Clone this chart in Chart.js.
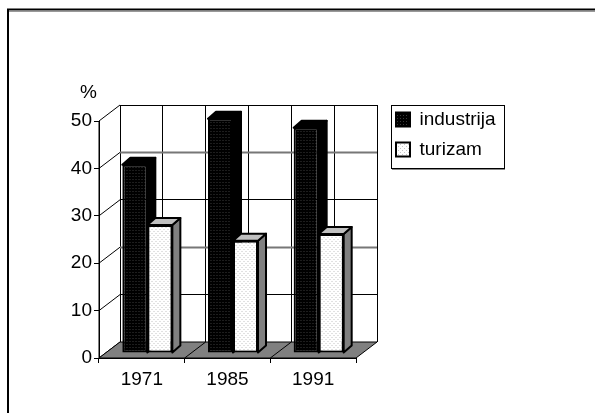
<!DOCTYPE html>
<html>
<head>
<meta charset="utf-8">
<script src="https://cdn.jsdelivr.net/npm/chart.js@4"></script>
<style>html,body{margin:0;padding:0;background:#fff}canvas{display:block}</style>
</head>
<body>
<canvas id="c" width="595" height="413"></canvas>
<script>
const categories = ["1971", "1985", "1991"];
const industrija = [39.7, 49.4, 47.5];
const turizam = [27, 23.7, 25.1];
const yTicks = [0, 10, 20, 30, 40, 50];
const unitLabel = "%";

const FONT = {family: "'Liberation Sans', Arial, sans-serif", size: 19};
const WALL = {dx: 21, dy: -16};
const BAR_DEPTH = {dx: 8, dy: -7};
const BAR_SHIFT = {dx: 5.5, dy: -5};

function dotted(bg, dot, size, pts) {
  const t = document.createElement('canvas');
  t.width = t.height = size;
  const g = t.getContext('2d');
  g.fillStyle = bg; g.fillRect(0, 0, size, size);
  g.fillStyle = dot;
  pts.forEach(p => g.fillRect(p[0], p[1], 1, 1));
  return g.createPattern(t, 'repeat');
}
const ctx0 = document.getElementById('c').getContext('2d');
const blackFill = dotted('#000000', '#3a3a3a', 3, [[1, 1]]);
const whiteFill = dotted('#ffffff', '#c4c4c4', 4, [[0, 0], [2, 2]]);

const line = (c, x1, y1, x2, y2) => { c.beginPath(); c.moveTo(x1, y1); c.lineTo(x2, y2); c.stroke(); };
const poly = (c, pts, fill, stroke, w) => {
  c.beginPath();
  pts.forEach((p, i) => i ? c.lineTo(p[0], p[1]) : c.moveTo(p[0], p[1]));
  c.closePath();
  if (fill) { c.fillStyle = fill; c.fill(); }
  if (stroke) { c.strokeStyle = stroke; c.lineWidth = w; c.lineJoin = 'round'; c.stroke(); }
};

const scene = {
  id: 'scene',
  afterLayout(chart) {
    const l = chart.legend;
    l.left = 385; l.right = 505; l.top = 99; l.bottom = 230;
    const t = chart.titleBlock;
    t.left = 80; t.right = 200; t.top = 81.6; t.bottom = 105;
  },
  beforeDraw(chart) {
    const c = chart.ctx;
    c.save();
    c.fillStyle = '#fff'; c.fillRect(0, 0, 595, 413);
    // outer frame
    c.strokeStyle = '#000'; c.lineWidth = 2;
    line(c, 7, 9.5, 595, 9.5);
    line(c, 8, 9, 8, 413);
    c.strokeStyle = '#999'; c.lineWidth = 1;
    line(c, 9, 11.5, 595, 11.5);
    // legend frame
    c.strokeStyle = '#000'; c.lineWidth = 1;
    c.strokeRect(391.5, 105.5, 113, 63);
    c.strokeStyle = '#888';
    line(c, 392, 169.5, 505, 169.5);
    c.restore();
  },
  beforeDatasetsDraw(chart) {
    const c = chart.ctx, x = chart.scales.x, y = chart.scales.y;
    const L = x.left, R = x.right, B = y.getPixelForValue(0), T = y.getPixelForValue(yTicks[yTicks.length - 1]);
    const snap = v => Math.round(v - 0.5) + 0.5;
    c.save();
    c.lineWidth = 1;
    // walls
    c.strokeStyle = '#000';
    const bx = L + WALL.dx, rx = R + WALL.dx, by = B + WALL.dy;
    const band = (R - L) / categories.length;
    // vertical lines on back wall, every half band
    for (let i = 0; i <= categories.length * 2; i++) {
      const px = snap(bx + i * band / 2);
      line(c, px, T + WALL.dy, px, by);
    }
    yTicks.forEach(v => {
      const py = y.getPixelForValue(v);
      const gy = snap(py + WALL.dy);
      const gray = v === 20 || v === 40;
      c.strokeStyle = gray ? '#777' : '#000';
      c.lineWidth = gray ? 2 : 1;
      line(c, bx, gy, rx, gy);
      c.strokeStyle = '#000'; c.lineWidth = 1;
      line(c, L, py, bx, py + WALL.dy);
    });
    line(c, L, T, L, B);
    // floor
    poly(c, [[L, B], [R, B], [rx, by], [bx, by]], '#808080', '#000', 1);
    for (let i = 1; i < categories.length; i++) {
      line(c, L + i * band, B, bx + i * band, by);
    }
    // bar sides and tops
    c.translate(BAR_SHIFT.dx, BAR_SHIFT.dy);
    const looks = [{side: '#000', top: '#000'}, {side: '#808080', top: '#c0c0c0'}];
    chart.data.datasets.forEach((ds, i) => {
      chart.getDatasetMeta(i).data.forEach(el => {
        const l = el.x - el.width / 2, r = el.x + el.width / 2, t = el.y, b = el.base;
        const d = BAR_DEPTH;
        poly(c, [[r, t], [r + d.dx, t + d.dy], [r + d.dx, b + d.dy], [r, b]], looks[i].side, '#000', 2);
        poly(c, [[l, t], [l + d.dx, t + d.dy], [r + d.dx, t + d.dy], [r, t]], looks[i].top, '#000', 2);
      });
    });
    c.restore();
    c.save();
    c.translate(BAR_SHIFT.dx, BAR_SHIFT.dy);
  },
  afterDatasetsDraw(chart) { chart.ctx.restore(); }
};

new Chart(ctx0, {
  type: 'bar',
  plugins: [scene],
  data: {
    labels: categories,
    datasets: [
      {label: 'industrija', data: industrija, backgroundColor: blackFill, borderColor: '#000', borderWidth: 2, borderSkipped: false, barPercentage: 1, categoryPercentage: 0.584},
      {label: 'turizam', data: turizam, backgroundColor: whiteFill, borderColor: '#000', borderWidth: 2, borderSkipped: false, barPercentage: 1, categoryPercentage: 0.584}
    ]
  },
  options: {
    responsive: false,
    animation: false,
    events: [],
    layout: {padding: {top: 98.2, right: 239, bottom: 0, left: 0}},
    plugins: {
      tooltip: {enabled: false},
      title: {display: true, text: unitLabel, align: 'start', color: '#000', font: {...FONT, weight: 'normal'}, padding: 0},
      legend: {
        position: 'chartArea',
        align: 'start',
        labels: {color: '#000', font: FONT, boxWidth: 14, boxHeight: 14, padding: 11}
      }
    },
    scales: {
      x: {
        z: 1,
        afterFit(s) { s.height = 55; },
        grid: {drawOnChartArea: false, color: '#000', tickLength: 5, tickWidth: 1},
        border: {color: '#000', width: 1},
        ticks: {color: '#000', font: FONT, padding: 5, maxRotation: 0}
      },
      y: {
        z: 1,
        min: 0, max: 50,
        afterFit(s) { s.width = 99; },
        afterBuildTicks(s) { s.ticks = yTicks.map(v => ({value: v})); },
        grid: {drawOnChartArea: false, color: '#000', tickLength: 5, tickWidth: 1},
        border: {color: '#000', width: 1},
        ticks: {color: '#000', font: FONT, padding: 2}
      }
    }
  }
});
</script>
</body>
</html>
